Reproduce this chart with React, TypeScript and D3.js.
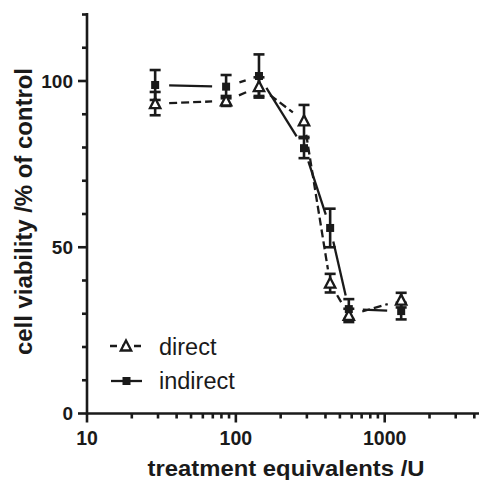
import React from "react";
import * as d3 from "d3";

const doses = [28.7, 86, 143, 287, 430, 574, 1290];
const directMean = [93.2, 94.0, 98.3, 88.0, 39.2, 29.5, 34.1];
const directErr = [3.5, 1.5, 2.8, 4.8, 2.8, 2.0, 2.2];
const indirectMean = [98.8, 98.3, 101.5, 79.8, 55.8, 31.4, 30.8];
const indirectErr = [4.5, 3.5, 6.5, 3.0, 5.8, 3.0, 2.5];
const seriesNames = ["direct", "indirect"];
const xMajorTicks = [10, 100, 1000];
const xMinorTicks = [20, 30, 40, 50, 60, 70, 80, 90, 200, 300, 400, 500, 600, 700, 800, 900, 2000, 3000, 4000];
const yMajorTicks = [0, 50, 100];
const yMinorTicks = [10, 20, 30, 40, 60, 70, 80, 90, 110, 120];
const xTitle = "treatment equivalents /U";
const yTitle = "cell viability /% of control";

const W = 479;
const H = 480;
const FONT = "'Liberation Sans', Arial, Helvetica, sans-serif";

export default function App() {
  const x = d3.scaleLog().domain([10, 4300]).range([87, 479]);
  const y = d3.scaleLinear().domain([0, 120]).range([413.5, 14.5]);
  const gap = 14;

  const segs = (means: number[]) => {
    const pts = doses.map((d, i) => [x(d), y(means[i])] as [number, number]);
    const out: string[] = [];
    for (let i = 0; i < pts.length - 1; i++) {
      const [x0, y0] = pts[i];
      const [x1, y1] = pts[i + 1];
      const len = Math.hypot(x1 - x0, y1 - y0);
      if (len <= 2 * gap) continue;
      const ux = (x1 - x0) / len, uy = (y1 - y0) / len;
      const line = d3.line();
      out.push(line([[x0 + ux * gap, y0 + uy * gap], [x1 - ux * gap, y1 - uy * gap]]) as string);
    }
    return out;
  };

  const errBars = (means: number[], errs: number[], key: string) =>
    doses.map((d, i) => {
      const cx = x(d);
      const yt = y(means[i] + errs[i]);
      const yb = y(means[i] - errs[i]);
      return (
        <g key={key + i} stroke="#1a1a1a" strokeWidth={2.6}>
          <line x1={cx} x2={cx} y1={yt} y2={yb} />
          <line x1={cx - 5.5} x2={cx + 5.5} y1={yt} y2={yt} />
          <line x1={cx - 5.5} x2={cx + 5.5} y1={yb} y2={yb} />
        </g>
      );
    });

  const tri = (cx: number, cy: number, k: string) => (
    <path key={k} d={`M${cx},${cy - 5.5} L${cx + 5.2},${cy + 4.5} L${cx - 5.2},${cy + 4.5} Z`}
      fill="white" stroke="#1a1a1a" strokeWidth={2.3} strokeLinejoin="miter" />
  );
  const sq = (cx: number, cy: number, k: string) => (
    <rect key={k} x={cx - 4} y={cy - 4} width={8} height={8} fill="#1a1a1a" />
  );

  const axisY0 = y(0);
  const axisX0 = x(10);

  return (
    <svg width={W} height={H} style={{ position: "absolute", left: 0, top: 0, background: "white" }}
      fontFamily={FONT}>
      <rect width={W} height={H} fill="white" />
      {segs(directMean).map((p, i) => (
        <path key={"dl" + i} d={p} stroke="#1a1a1a" strokeWidth={2.3} strokeDasharray="8,4" fill="none" />
      ))}
      {segs(indirectMean).map((p, i) => (
        <path key={"il" + i} d={p} stroke="#1a1a1a" strokeWidth={2.3} fill="none" />
      ))}
      {errBars(directMean, directErr, "de")}
      {errBars(indirectMean, indirectErr, "ie")}
      {doses.map((d, i) => tri(x(d), y(directMean[i]), "dt" + i))}
      {doses.map((d, i) => sq(x(d), y(indirectMean[i]), "is" + i))}

      <g stroke="#1a1a1a" strokeWidth={2.6}>
        <line x1={axisX0} x2={axisX0} y1={13} y2={axisY0 + 1} />
        <line x1={axisX0 - 1} x2={W} y1={axisY0} y2={axisY0} />
        {yMajorTicks.map((t) => (
          <line key={"ym" + t} x1={axisX0 - 9} x2={axisX0} y1={y(t)} y2={y(t)} />
        ))}
        {yMinorTicks.map((t) => (
          <line key={"yn" + t} x1={axisX0 - 5} x2={axisX0} y1={y(t)} y2={y(t)} />
        ))}
        {xMajorTicks.map((t) => (
          <line key={"xm" + t} x1={x(t)} x2={x(t)} y1={axisY0} y2={axisY0 + 9} />
        ))}
        {xMinorTicks.map((t) => (
          <line key={"xn" + t} x1={x(t)} x2={x(t)} y1={axisY0} y2={axisY0 + 5} />
        ))}
      </g>
      {yMajorTicks.map((t) => (
        <text key={"yl" + t} x={73} y={y(t)} dy="0.36em" textAnchor="end" fontSize={19}
          fontWeight="bold" fill="#1a1a1a">{t}</text>
      ))}
      {xMajorTicks.map((t) => (
        <text key={"xl" + t} x={x(t)} y={445} textAnchor="middle" fontSize={19.5}
          fontWeight="bold" fill="#1a1a1a">{t}</text>
      ))}
      <text x={286} y={476} textAnchor="middle" fontSize={21.5} fontWeight="bold" fill="#1a1a1a"
        textLength={277} lengthAdjust="spacingAndGlyphs">{xTitle}</text>
      <text transform="translate(31.5,211.5) rotate(-90)" textAnchor="middle" fontSize={23}
        fontWeight="bold" fill="#1a1a1a" textLength={287} lengthAdjust="spacingAndGlyphs">{yTitle}</text>

      <g>
        <line x1={110} x2={143} y1={346} y2={346} stroke="#1a1a1a" strokeWidth={2.3} strokeDasharray="7,5" />
        {tri(126, 346, "lt")}
        <text x={159} y={355} fontSize={23.5} fill="#1a1a1a">{seriesNames[0]}</text>
        <line x1={111} x2={142} y1={381} y2={381} stroke="#1a1a1a" strokeWidth={2.3} />
        {sq(126.5, 381, "ls")}
        <text x={159} y={389} fontSize={23.5} fill="#1a1a1a">{seriesNames[1]}</text>
      </g>
    </svg>
  );
}
